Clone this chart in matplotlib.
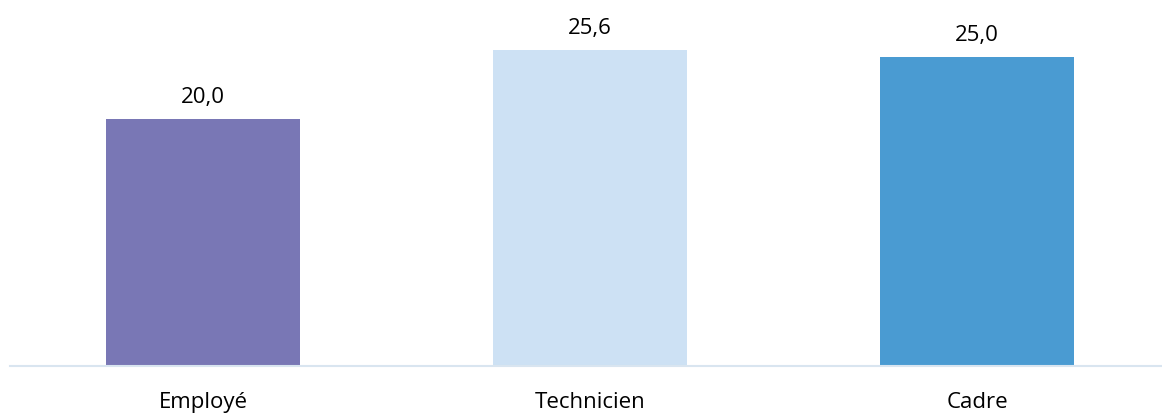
import matplotlib.pyplot as plt

categories = ["Employé", "Technicien", "Cadre"]
values = [20.0, 25.6, 25.0]
bar_colors = ["#7977B5", "#CDE1F4", "#4A9BD2"]

plt.rcParams['font.family'] = ['Open Sans', 'DejaVu Sans']

fig = plt.figure(figsize=(11.62, 4.15), dpi=100)
# axes spans slightly past the right edge, like the original crop
ax = fig.add_axes([9.5 / 1162, 49 / 415, 1161 / 1162, 366 / 415])

xs = range(len(categories))
ax.bar(xs, values, width=0.5, color=bar_colors, zorder=2)

for x, v in zip(xs, values):
    ax.text(x, v + 0.9, f"{v:.1f}".replace(".", ","), ha="center", va="bottom",
            fontsize=16, color="#000000")

ax.set_xlim(-0.5, 2.5)
ax.set_ylim(0, 366 / 12.35)

ax.set_xticks(list(xs))
ax.set_xticklabels(categories, fontsize=16)
ax.tick_params(axis="x", length=0, pad=19)
ax.set_yticks([])

for side in ["top", "right", "left"]:
    ax.spines[side].set_visible(False)
ax.spines["bottom"].set_color("#D9E5F0")
ax.spines["bottom"].set_linewidth(1.5)

fig.savefig("out.png", dpi=100)
